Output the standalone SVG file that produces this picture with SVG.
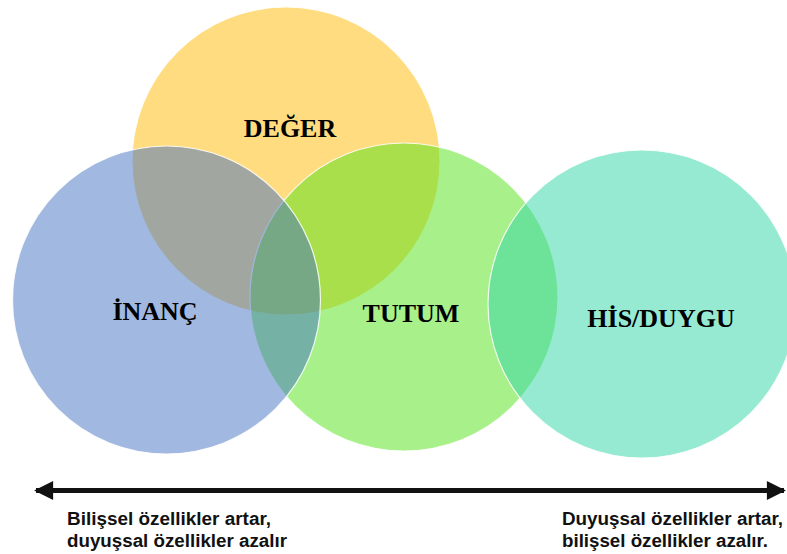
<svg xmlns="http://www.w3.org/2000/svg" width="787" height="554" viewBox="0 0 787 554">
<style>
.c{stroke:#ffffff;stroke-width:1.2;stroke-opacity:0.85}
.h{font-family:"Liberation Serif","Times New Roman",serif;font-weight:bold;font-size:26px;fill:#000;text-anchor:middle}
.b{font-family:"Liberation Sans",Arial,sans-serif;font-weight:bold;font-size:18px;fill:#111}
</style>
<defs>
<marker id="ah" viewBox="0 0 10 10" refX="9" refY="5" markerWidth="5" markerHeight="3.8" markerUnits="strokeWidth" orient="auto-start-reverse">
<path d="M0,0 L10,5 L0,10 z" fill="#111"/>
</marker>
</defs>
<rect width="787" height="554" fill="#ffffff"/>
<g id="deger">
<circle class="c" cx="286" cy="161" r="154" fill="#FFB900" fill-opacity="0.5"/>
</g>
<g id="tutum">
<circle class="c" cx="404" cy="297" r="154" fill="#51E115" fill-opacity="0.5"/>
</g>
<g id="inanc">
<circle class="c" cx="166.5" cy="300" r="154" fill="#4371C1" fill-opacity="0.5"/>
</g>
<g id="his">
<circle class="c" cx="642" cy="304" r="154" fill="#2FD5A5" fill-opacity="0.5"/>
</g>
<g id="labels">
<text class="h" x="290" y="137">DEĞER</text>
<text class="h" x="155" y="320">İNANÇ</text>
<text class="h" x="411" y="322">TUTUM</text>
<text class="h" x="661" y="327">HİS/DUYGU</text>
</g>
<g id="connectors">
<line x1="36" y1="490.5" x2="784" y2="490.5" stroke="#111" stroke-width="5" marker-start="url(#ah)" marker-end="url(#ah)"/>
</g>
<g id="notes">
<text class="b" x="67" y="525" textLength="204" lengthAdjust="spacingAndGlyphs">Bilişsel özellikler artar,</text>
<text class="b" x="67" y="547" textLength="220" lengthAdjust="spacingAndGlyphs">duyuşsal özellikler azalır</text>
<text class="b" x="562" y="525" textLength="221" lengthAdjust="spacingAndGlyphs">Duyuşsal özellikler artar,</text>
<text class="b" x="562" y="547" textLength="206" lengthAdjust="spacingAndGlyphs">bilişsel özellikler azalır.</text>
</g>
</svg>
